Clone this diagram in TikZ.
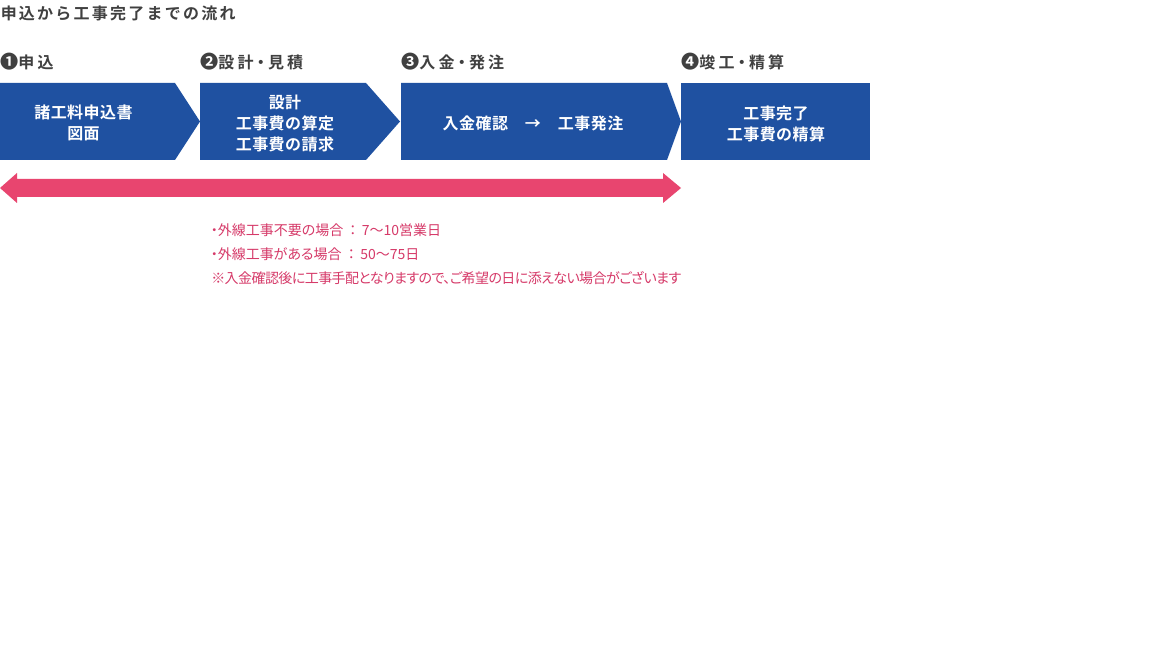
\documentclass[tikz,border=0pt]{standalone}
\usepackage{fontspec}
\newfontfamily\jp{Noto Sans CJK JP}[BoldFont={Noto Sans CJK JP Bold}]
\newfontfamily\jpp{Noto Sans CJK JP}[BoldFont={Noto Sans CJK JP Bold},RawFeature=+palt]
\definecolor{stepblue}{RGB}{31,81,161}
\definecolor{spanpink}{RGB}{232,69,111}
\definecolor{notepink}{RGB}{214,58,105}
\definecolor{headgray}{RGB}{64,64,64}
\newcommand{\widecolon}{\hspace{2pt}{\jp ：}\hspace{1.5pt}}
\newcommand{\stepnum}[1]{\raisebox{-0.4pt}{\fontsize{13.6pt}{14pt}\selectfont #1}}
\begin{document}
\begin{tikzpicture}[x=0.75pt,y=-0.75pt,
  titletext/.style={anchor=west,inner sep=0pt,text=headgray,
    font={\jp\bfseries\fontsize{12pt}{14pt}\selectfont\addfontfeature{LetterSpace=14}}},
  headtext/.style={anchor=west,inner sep=0pt,text=headgray,
    font={\jpp\bfseries\fontsize{12pt}{14pt}\selectfont\addfontfeature{LetterSpace=20}}},
  boxtext/.style={inner sep=0pt,text=white,align=center,
    font={\jp\bfseries\fontsize{12pt}{15.75pt}\selectfont\addfontfeature{LetterSpace=3}}},
  notetext/.style={anchor=west,inner sep=0pt,text=notepink,
    font={\jpp\fontsize{10.5pt}{14pt}\selectfont}},
  stepshape/.style={fill=stepblue,draw=none},
  spanarrow/.style={fill=spanpink,draw=none}]
\useasboundingbox[fill=white] (0,0) rectangle (1152,648);
% title
\node[titletext] (title) at (0.5,13.5) {申込から工事完了までの流れ};
% headings
\node[headtext] (h1) at (0,62) {\stepnum{❶}申込};
\node[headtext] (h2) at (200,62) {\stepnum{❷}設計・見積};
\node[headtext] (h3) at (401,62) {\stepnum{❸}入金・発注};
\node[headtext] (h4) at (681,62) {\stepnum{❹}竣工・精算};
% step shapes
\fill[stepshape] (0,83) -- (175,83) -- (200,121.5) -- (175,160) -- (0,160) -- cycle;
\fill[stepshape] (200,83) -- (366,83) -- (400,121.5) -- (366,160) -- (200,160) -- cycle;
\fill[stepshape] (401,83) -- (667,83) -- (681,121.5) -- (667,160) -- (401,160) -- cycle;
\fill[stepshape] (681,83) rectangle (870,160);
% box texts
\node[boxtext] (b1) at (83.5,122.5) {諸工料申込書\\図面};
\node[boxtext] (b2) at (285,123) {設計\\工事費の算定\\工事費の請求};
\node[boxtext] (b3) at (533,123) {入金確認　→　工事発注};
\node[boxtext] (b4) at (776,123.5) {工事完了\\工事費の精算};
% span arrow
\fill[spanarrow] (0,188) -- (17,173) -- (17,179) -- (663,179) -- (663,173) -- (681,188)
  -- (663,203) -- (663,197) -- (17,197) -- (17,203) -- cycle;
% notes
\node[notetext] (n1) at (210.5,230) {・外線工事不要の場合\widecolon 7～10営業日};
\node[notetext] (n2) at (210.5,254) {・外線工事がある場合\widecolon 50～75日};
\node[notetext,font={\jpp\fontsize{10.5pt}{14pt}\selectfont\addfontfeature{LetterSpace=-4}}] (n3) at (211,278) {※入金確認後に工事手配となりますので、ご希望の日に添えない場合がございます};
\end{tikzpicture}
\end{document}
